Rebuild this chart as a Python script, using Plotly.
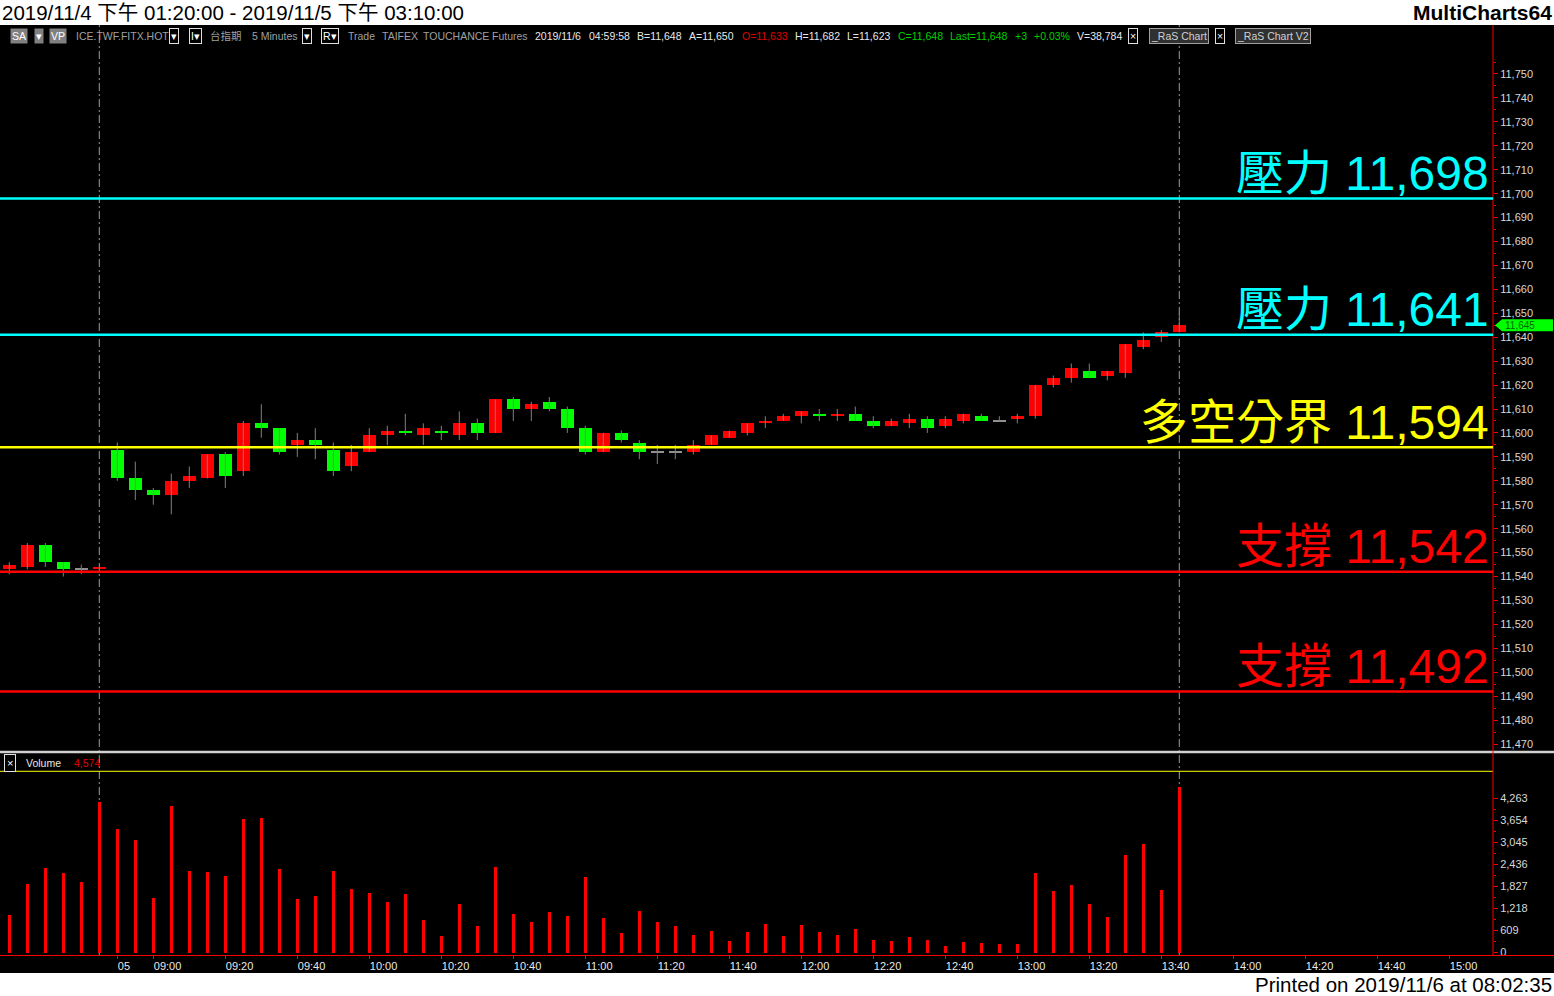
import plotly.graph_objects as go

W, H = 1554, 996

# ---------------- data ----------------
opens = [11543, 11544, 11553, 11546, 11543, 11543,
         11593, 11581, 11576, 11574, 11580, 11581, 11591, 11584, 11604, 11602,
         11595, 11597, 11593, 11586, 11592, 11599, 11601, 11599, 11601, 11599,
         11604, 11600, 11614, 11610, 11613, 11610, 11602, 11592, 11600, 11596,
         11592, 11592, 11592, 11595, 11598, 11600, 11604, 11605, 11607, 11608,
         11607, 11608, 11605, 11603, 11604, 11606, 11603, 11605, 11607, 11605,
         11606, 11607, 11620, 11623, 11626, 11624, 11625, 11636, 11640, 11642]
highs = [11546, 11554, 11554, 11546, 11545, 11544,
         11596, 11588, 11577, 11583, 11586, 11591, 11592, 11605, 11612, 11602,
         11600, 11602, 11596, 11595, 11602, 11603, 11608, 11604, 11603, 11609,
         11606, 11614, 11615, 11613, 11615, 11611, 11603, 11600, 11601, 11597,
         11595, 11595, 11597, 11599, 11601, 11604, 11607, 11608, 11609, 11610,
         11610, 11611, 11607, 11606, 11608, 11607, 11607, 11608, 11608, 11607,
         11608, 11620, 11624, 11629, 11629, 11626, 11637, 11642, 11643, 11650]
lows = [11541, 11543, 11544, 11540, 11541, 11543,
        11580, 11572, 11570, 11566, 11577, 11581, 11577, 11582, 11598, 11591,
        11590, 11589, 11582, 11584, 11592, 11595, 11599, 11595, 11597, 11597,
        11597, 11600, 11605, 11605, 11609, 11600, 11591, 11592, 11596, 11589,
        11587, 11589, 11591, 11595, 11598, 11599, 11602, 11605, 11604, 11605,
        11605, 11605, 11602, 11603, 11602, 11600, 11602, 11604, 11605, 11605,
        11604, 11606, 11619, 11621, 11623, 11622, 11623, 11635, 11638, 11642]
closes = [11545, 11553, 11546, 11543, 11543, 11544,
          11581, 11576, 11574, 11580, 11582, 11591, 11582, 11604, 11602, 11592,
          11597, 11595, 11584, 11592, 11599, 11601, 11600, 11602, 11600, 11604,
          11600, 11614, 11610, 11612, 11610, 11602, 11592, 11600, 11597, 11592,
          11592, 11592, 11595, 11599, 11601, 11604, 11605, 11607, 11609, 11607,
          11608, 11605, 11603, 11605, 11606, 11602, 11606, 11608, 11605, 11605,
          11607, 11620, 11623, 11627, 11623, 11626, 11637, 11639, 11642, 11645]
volumes = [1033, 1892, 2334, 2196, 1947, 4161,
           3414, 3110, 1504, 4051, 2251, 2224, 2113, 3691, 3718, 2307,
           1476, 1559, 2251, 1753, 1642, 1393, 1615, 895, 452, 1338,
           729, 2362, 1061, 840, 1116, 1006, 2085, 950, 535, 1144,
           840, 729, 480, 590, 314, 563, 784, 452, 757, 563,
           480, 646, 341, 314, 424, 341, 175, 286, 258, 231,
           231, 2196, 1698, 1864, 1338, 978, 2694, 2999, 1725, 4574]
bars = list(range(len(closes)))

tick_bars = [6] + list(range(8, 81, 4))
tick_labels = ["05", "09:00", "09:20", "09:40", "10:00", "10:20", "10:40",
               "11:00", "11:20", "11:40", "12:00", "12:20", "12:40", "13:00",
               "13:20", "13:40", "14:00", "14:20", "14:40", "15:00"]

price_ticks = list(range(11470, 11751, 10))
price_minor = list(range(11475, 11756, 10))
vol_ticks = [0, 609, 1218, 1827, 2436, 3045, 3654, 4263]
vol_minor = [304.5, 913.5, 1522.5, 2131.5, 2740.5, 3349.5, 3958.5]

levels = [11698, 11641, 11594, 11542, 11492]
level_names = ["壓力", "壓力", "多空分界", "支撐", "支撐"]
level_colors = ["#00ffff", "#00ffff", "#ffff00", "#ff0000", "#ff0000"]

session_break_bars = [5, 65]

title_text = "2019/11/4 下午 01:20:00 - 2019/11/5 下午 03:10:00"
brand_text = "MultiCharts64"
printed_text = "Printed on 2019/11/6 at 08:02:35"

# toolbar: (left px, text, colour, background, border)
GRAY_T = "#a0a0a0"
WHITE_T = "#e8e8e8"
GREEN_T = "#00d000"
RED_T = "#e00000"
toolbar = [
    (10, "SA", "#ffffff", "#808080", None),
    (34, "▾", "#ffffff", "#808080", None),
    (49, "VP", "#ffffff", "#808080", None),
    (74, "ICE.TWF.FITX.HOT", GRAY_T, None, None),
    (169, "▾", "#ffffff", "#000000", "#e0e0e0"),
    (189, "I▾", "#ffffff", "#000000", "#e0e0e0"),
    (208, "台指期", GRAY_T, None, None),
    (250, "5 Minutes", GRAY_T, None, None),
    (302, "▾", "#ffffff", "#000000", "#e0e0e0"),
    (321, "R▾", "#ffffff", "#000000", "#e0e0e0"),
    (346, "Trade", GRAY_T, None, None),
    (380, "TAIFEX", GRAY_T, None, None),
    (421, "TOUCHANCE", GRAY_T, None, None),
    (490, "Futures", GRAY_T, None, None),
    (533, "2019/11/6", WHITE_T, None, None),
    (587, "04:59:58", WHITE_T, None, None),
    (635, "B=11,648", WHITE_T, None, None),
    (687, "A=11,650", WHITE_T, None, None),
    (740, "O=11,633", RED_T, None, None),
    (793, "H=11,682", WHITE_T, None, None),
    (845, "L=11,623", WHITE_T, None, None),
    (896, "C=11,648", GREEN_T, None, None),
    (948, "Last=11,648", GREEN_T, None, None),
    (1013, "+3", GREEN_T, None, None),
    (1032, "+0.03%", GREEN_T, None, None),
    (1075, "V=38,784", WHITE_T, None, None),
    (1128, "×", "#ffffff", "#000000", "#e0e0e0"),
    (1149, "_RaS Chart", "#d0d0d0", "#303030", "#a0a0a0"),
    (1215, "×", "#ffffff", "#000000", "#e0e0e0"),
    (1235, "_RaS Chart V2", "#d0d0d0", "#303030", "#a0a0a0"),
]

# ---------------- geometry helpers (pixels -> paper) ----------------
SY = 1.003   # small vertical correction observed in the rendered page

def px(x):
    return x / W

def py(y):
    return 1 - (y * SY) / H

PLOT_R = 1493          # right edge of plotting area (axis line)
PRICE_TOP, PRICE_BOT = 25, 749
VOL_TOP, VOL_BOT = 754, 955.5
BAR0_X, BAR_DX = 9.3, 18.0
PRICE_PX = 2.393       # px per price point
P_REF_Y, P_REF = 74, 11750
VOL_PX = 154.0 / 4263  # px per volume unit
V0_Y = 952.5

x_range = [(0 - BAR0_X) / BAR_DX, (PLOT_R - BAR0_X) / BAR_DX]
p_range = [P_REF - (PRICE_BOT - P_REF_Y) / PRICE_PX, P_REF + (P_REF_Y - PRICE_TOP) / PRICE_PX]
v_range = [-(VOL_BOT - V0_Y) / VOL_PX, (V0_Y - VOL_TOP) / VOL_PX]

FONT = "Liberation Sans, Arial, Noto Sans CJK TC, sans-serif"

fig = go.Figure()

# wicks
wx, wy = [], []
for i, hi, lo in zip(bars, highs, lows):
    wx += [i, i, None]
    wy += [lo, hi, None]
fig.add_trace(go.Scatter(x=wx, y=wy, mode="lines", line=dict(color="#808080", width=1),
                         hoverinfo="skip", xaxis="x", yaxis="y", showlegend=False))

# bodies
base, height, colors = [], [], []
for o, c in zip(opens, closes):
    if c == o:
        base.append(o - 0.25); height.append(0.5); colors.append("#909090")
    else:
        base.append(min(o, c)); height.append(abs(c - o))
        colors.append("#ff0000" if c > o else "#00ff00")
fig.add_trace(go.Bar(x=bars, y=height, base=base, width=0.72,
                     marker=dict(color=colors, line=dict(width=0)),
                     hoverinfo="skip", xaxis="x", yaxis="y", showlegend=False))

# volume
fig.add_trace(go.Bar(x=bars, y=volumes, width=0.17,
                     marker=dict(color="#ff0000", line=dict(width=0)),
                     hoverinfo="skip", xaxis="x", yaxis="y2", showlegend=False))

shapes = []
# black canvas
shapes.append(dict(type="rect", xref="paper", yref="paper", x0=0, x1=1, y0=py(973), y1=py(25),
                   fillcolor="#000000", line=dict(width=0), layer="below"))
# session break dashed lines
for b in session_break_bars:
    shapes.append(dict(type="line", xref="x", yref="paper", x0=b, x1=b, y0=py(955), y1=py(25),
                       line=dict(color="#9a9a9a", width=1, dash="8px,3px,2px,3px"), layer="below"))
# separator between panels
shapes.append(dict(type="line", xref="paper", yref="paper", x0=0, x1=1, y0=py(752), y1=py(752),
                   line=dict(color="#d0d0d0", width=2.5), layer="above"))
# yellow line in volume header
shapes.append(dict(type="line", xref="paper", yref="paper", x0=0, x1=px(PLOT_R), y0=py(771.3), y1=py(771.3),
                   line=dict(color="#ffff00", width=1), layer="above"))
# red axis lines
shapes.append(dict(type="line", xref="paper", yref="paper", x0=px(PLOT_R), x1=px(PLOT_R),
                   y0=py(955.5), y1=py(25), line=dict(color="#ff0000", width=1), layer="above"))
shapes.append(dict(type="line", xref="paper", yref="paper", x0=0, x1=1,
                   y0=py(955.5), y1=py(955.5), line=dict(color="#ff0000", width=1), layer="above"))
# level lines
for lv, col in zip(levels, level_colors):
    shapes.append(dict(type="line", xref="paper", yref="y", x0=0, x1=px(PLOT_R), y0=lv, y1=lv,
                       line=dict(color=col, width=2.5), layer="above"))
# last price marker
last = closes[-1]
d = 6 / PRICE_PX
shapes.append(dict(type="path", xref="paper", yref="y",
                   path=(f"M {px(1495)},{last} L {px(1502)},{last + d} L {px(1553)},{last + d} "
                         f"L {px(1553)},{last - d} L {px(1502)},{last - d} Z"),
                   fillcolor="#00ff00", line=dict(width=0), layer="above"))

annotations = []
# level texts
for lv, name, col in zip(levels, level_names, level_colors):
    annotations.append(dict(xref="paper", yref="y", x=px(1491), y=lv, xanchor="right", yanchor="middle",
                            yshift=25 * SY, text=f"{name} {lv:,}", showarrow=False,
                            font=dict(family=FONT, size=48, color=col)))
# last price text
annotations.append(dict(xref="paper", yref="y", x=px(1503), y=last, xanchor="left", yanchor="middle",
                        text=f"{last:,}", showarrow=False,
                        font=dict(family=FONT, size=10, color="#006400")))
# header / footer
annotations.append(dict(xref="paper", yref="paper", x=0, y=py(12.5), xanchor="left", yanchor="middle",
                        text=title_text, showarrow=False, font=dict(family=FONT, size=20.5, color="#000000")))
annotations.append(dict(xref="paper", yref="paper", x=1, y=py(12.5), xanchor="right", yanchor="middle",
                        text=f"<b>{brand_text}</b>", showarrow=False,
                        font=dict(family=FONT, size=21, color="#000000")))
annotations.append(dict(xref="paper", yref="paper", x=1, y=py(985), xanchor="right", yanchor="middle",
                        text=printed_text, showarrow=False, font=dict(family=FONT, size=20.5, color="#000000")))
# toolbar
for xl, txt, col, bg, bd in toolbar:
    a = dict(xref="paper", yref="paper", x=px(xl), y=py(36), xanchor="left", yanchor="middle",
             text=txt, showarrow=False, font=dict(family=FONT, size=10.5, color=col))
    if bg:
        a["bgcolor"] = bg
        a["borderpad"] = 1
    if bd:
        a["bordercolor"] = bd
        a["borderwidth"] = 1
    annotations.append(a)
# volume header
annotations.append(dict(xref="paper", yref="paper", x=px(4), y=py(763), xanchor="left", yanchor="middle",
                        text="×", showarrow=False, bgcolor="#000000", bordercolor="#e0e0e0",
                        borderwidth=1, borderpad=2, font=dict(family=FONT, size=11, color="#ffffff")))
annotations.append(dict(xref="paper", yref="paper", x=px(24), y=py(763), xanchor="left", yanchor="middle",
                        text="Volume", showarrow=False, font=dict(family=FONT, size=10.5, color="#e8e8e8")))
annotations.append(dict(xref="paper", yref="paper", x=px(72), y=py(763), xanchor="left", yanchor="middle",
                        text=f"{volumes[-1]:,}", showarrow=False, font=dict(family=FONT, size=10.5, color="#e00000")))

fig.update_layout(
    width=W, height=H,
    margin=dict(l=0, r=0, t=0, b=0),
    paper_bgcolor="#ffffff", plot_bgcolor="#000000",
    barmode="overlay", bargap=0, showlegend=False, hovermode=False,
    xaxis=dict(domain=[0, px(PLOT_R)], range=x_range, anchor="y2",
               tickmode="array", tickvals=tick_bars, ticktext=tick_labels,
               ticks="outside", ticklen=3, tickcolor="#ff0000", ticklabelposition="outside right",
               tickfont=dict(family=FONT, size=11, color="#e8e8e8"),
               showgrid=False, zeroline=False, showline=False, fixedrange=True),
    yaxis=dict(domain=[py(PRICE_BOT), py(PRICE_TOP)], range=p_range, side="right", anchor="x",
               tickmode="array", tickvals=price_ticks, tickformat=",d",
               ticks="outside", ticklen=4, tickcolor="#ff0000",
               minor=dict(tickvals=price_minor, ticks="outside", ticklen=2, tickcolor="#ff0000"),
               tickfont=dict(family=FONT, size=11, color="#d8d8d8"),
               showgrid=False, zeroline=False, showline=False, fixedrange=True),
    yaxis2=dict(domain=[py(VOL_BOT), py(VOL_TOP)], range=v_range, side="right", anchor="x",
                tickmode="array", tickvals=vol_ticks, tickformat=",d",
                ticks="outside", ticklen=4, tickcolor="#ff0000",
                minor=dict(tickvals=vol_minor, ticks="outside", ticklen=2, tickcolor="#ff0000"),
                tickfont=dict(family=FONT, size=11, color="#d8d8d8"),
                showgrid=False, zeroline=False, showline=False, fixedrange=True),
    shapes=shapes, annotations=annotations,
)

page_css_js = (
    "var de=document.documentElement;de.style.margin='0';de.style.padding='0';de.style.overflow='hidden';"
    "var b=document.body;b.style.margin='0';b.style.padding='0';b.style.overflow='hidden';"
)
fig.write_html("out.html", config={"displayModeBar": False}, post_script=page_css_js)
